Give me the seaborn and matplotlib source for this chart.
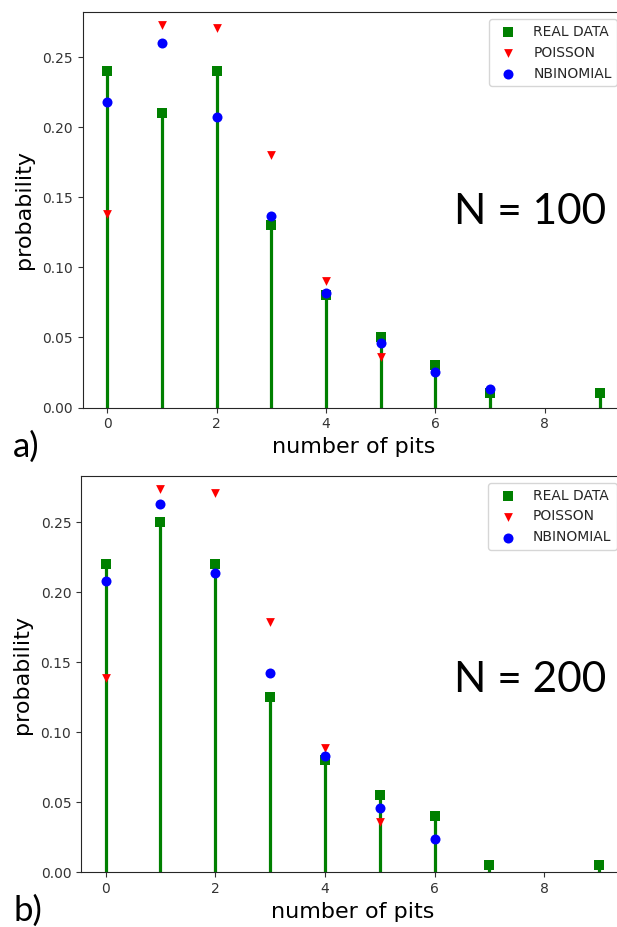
import matplotlib
matplotlib.use("Agg")
import matplotlib.pyplot as plt
import seaborn as sns
import pandas as pd

# ---- data ----
k_real = [0, 1, 2, 3, 4, 5, 6, 7, 9]
real_100 = [0.24, 0.21, 0.24, 0.13, 0.08, 0.05, 0.03, 0.01, 0.01]
real_200 = [0.22, 0.25, 0.22, 0.125, 0.08, 0.055, 0.04, 0.005, 0.005]

k_pois = [0, 1, 2, 3, 4, 5]
pois_100 = [0.138, 0.273, 0.271, 0.180, 0.090, 0.036]
pois_200 = [0.139, 0.274, 0.271, 0.179, 0.089, 0.036]

k_nb_100 = [0, 1, 2, 3, 4, 5, 6, 7]
nb_100 = [0.218, 0.260, 0.207, 0.137, 0.082, 0.046, 0.025, 0.013]
k_nb_200 = [0, 1, 2, 3, 4, 5, 6]
nb_200 = [0.208, 0.263, 0.214, 0.142, 0.083, 0.046, 0.024]

panels = [
    dict(tag="a)", n_text="N = 100", real=real_100, pois=pois_100,
         k_nb=k_nb_100, nb=nb_100),
    dict(tag="b)", n_text="N = 200", real=real_200, pois=pois_200,
         k_nb=k_nb_200, nb=nb_200),
]

sns.set_style("ticks")
plt.rcParams["font.family"] = ["DejaVu Sans"]

W, H = 617, 927
fig = plt.figure(figsize=(W / 100, H / 100), dpi=100)

# axes boxes in pixel coords: left, top, right, bottom
boxes = [(82.7, 12.3, 624.2, 407.5), (81.0, 476.0, 623.6, 872.3)]
ylims = [0.282, 0.283]
tag_base = [457, 921]
n_base = [224, 691.5]

for i, (p, box) in enumerate(zip(panels, boxes)):
    l, t, r, b = box
    ax = fig.add_axes([l / W, 1 - b / H, (r - l) / W, (b - t) / H])
    ax.vlines(k_real, 0, p["real"], colors="g", linewidth=2.3, zorder=2)
    sns.scatterplot(x=k_real, y=p["real"], marker="s", color="g", s=55,
                    linewidth=0, label="REAL DATA", ax=ax, zorder=3)
    sns.scatterplot(x=k_pois, y=p["pois"], marker="v", color="r", s=40,
                    linewidth=0, label="POISSON", ax=ax, zorder=4)
    sns.scatterplot(x=p["k_nb"], y=p["nb"], marker="o", color="b", s=52,
                    linewidth=0, label="NBINOMIAL", ax=ax, zorder=5)
    ax.set_xlim(-0.45, 9.45)
    ax.set_ylim(0, ylims[i])
    ax.set_xticks([0, 2, 4, 6, 8])
    ax.set_yticks([0.0, 0.05, 0.10, 0.15, 0.20, 0.25])
    ax.set_yticklabels(["0.00", "0.05", "0.10", "0.15", "0.20", "0.25"])
    ax.tick_params(labelsize=10, colors="#333333")
    ax.set_xlabel("number of pits", fontsize=16, labelpad=4, color="black")
    ax.set_ylabel("probability", fontsize=16, labelpad=6, color="black")
    ax.legend(loc="upper right", fontsize=10, markerscale=1.0)
    fig.text(13 / W, 1 - tag_base[i] / H, p["tag"], fontsize=25,
             family=["Lato", "DejaVu Sans"], va="baseline", ha="left",
             color="black")
    fig.text(606 / W, 1 - n_base[i] / H, p["n_text"], fontsize=30.5,
             family=["Lato", "DejaVu Sans"], va="baseline", ha="right",
             color="black")

fig.savefig("out.png", dpi=100)
